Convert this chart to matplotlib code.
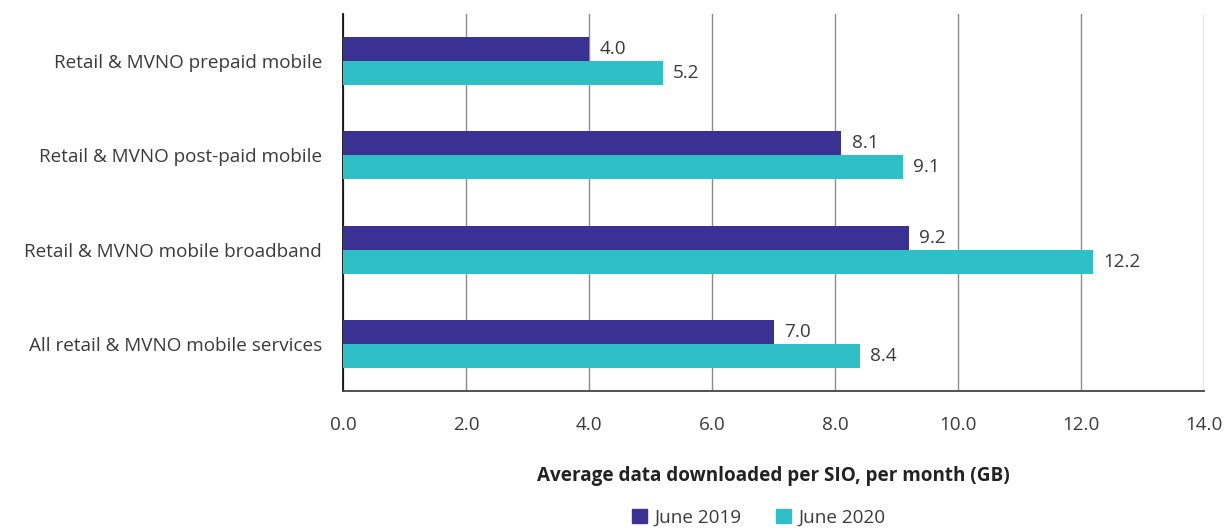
#!/usr/bin/env python3
"""Average data downloaded per SIO, per month: June 2019 vs June 2020."""
import matplotlib.pyplot as plt
import numpy as np
from matplotlib.patches import Patch

categories = [
    "Retail & MVNO prepaid mobile",
    "Retail & MVNO post-paid mobile",
    "Retail & MVNO mobile broadband",
    "All retail & MVNO mobile services",
]
june_2019 = [4.0, 8.1, 9.2, 7.0]
june_2020 = [5.2, 9.1, 12.2, 8.4]
series_names = ["June 2019", "June 2020"]
x_ticks = [0, 2, 4, 6, 8, 10, 12, 14]

PURPLE = "#3b3192"
TEAL = "#2fc0c7"
TEXT = "#3a3a3a"
FS = 13.6

plt.rcParams["font.family"] = ["Open Sans", "DejaVu Sans"]

fig = plt.figure(figsize=(12.28, 5.30), dpi=100)
ax = fig.add_axes([0.2793, 0.2623, 0.7012, 0.7113])

y = np.arange(len(categories))
h = 0.255
b1 = ax.barh(y - h / 2, june_2019, height=h, color=PURPLE, zorder=3)
b2 = ax.barh(y + h / 2, june_2020, height=h, color=TEAL, zorder=3)

for bars, vals in ((b1, june_2019), (b2, june_2020)):
    for bar, v in zip(bars, vals):
        ax.text(v + 0.17, bar.get_y() + bar.get_height() / 2, f"{v:.1f}",
                va="center", ha="left", fontsize=FS, color=TEXT)

ax.set_xlim(0, 14)
ax.set_ylim(len(categories) - 0.5, -0.5)
ax.set_xticks(x_ticks)
ax.set_xticklabels([f"{t:.1f}" for t in x_ticks], fontsize=FS, color=TEXT)
ax.set_yticks(y)
ax.set_yticklabels(categories, fontsize=FS, color=TEXT)
ax.tick_params(axis="x", length=0, pad=18)
ax.tick_params(axis="y", length=0, pad=15)

ax.grid(axis="x", color="#8c8c8c", linewidth=1.0, zorder=0)
for side in ("top", "right"):
    ax.spines[side].set_visible(False)
ax.spines["left"].set_color("#111111")
ax.spines["bottom"].set_color("#444444")
ax.spines["left"].set_linewidth(1.3)
ax.spines["bottom"].set_linewidth(1.3)

ax.set_xlabel("Average data downloaded per SIO, per month (GB)",
              fontsize=FS, fontweight="bold", color="#222222", labelpad=23)

handles = [Patch(color=PURPLE), Patch(color=TEAL)]
fig.legend(handles, series_names, loc="lower center", bbox_to_anchor=(0.618, -0.026),
           ncol=2, frameon=False, fontsize=FS, handlelength=0.8, handleheight=0.8,
           handletextpad=0.4, columnspacing=1.8, labelcolor=TEXT)

fig.savefig("out.png", dpi=100)
plt.close(fig)
